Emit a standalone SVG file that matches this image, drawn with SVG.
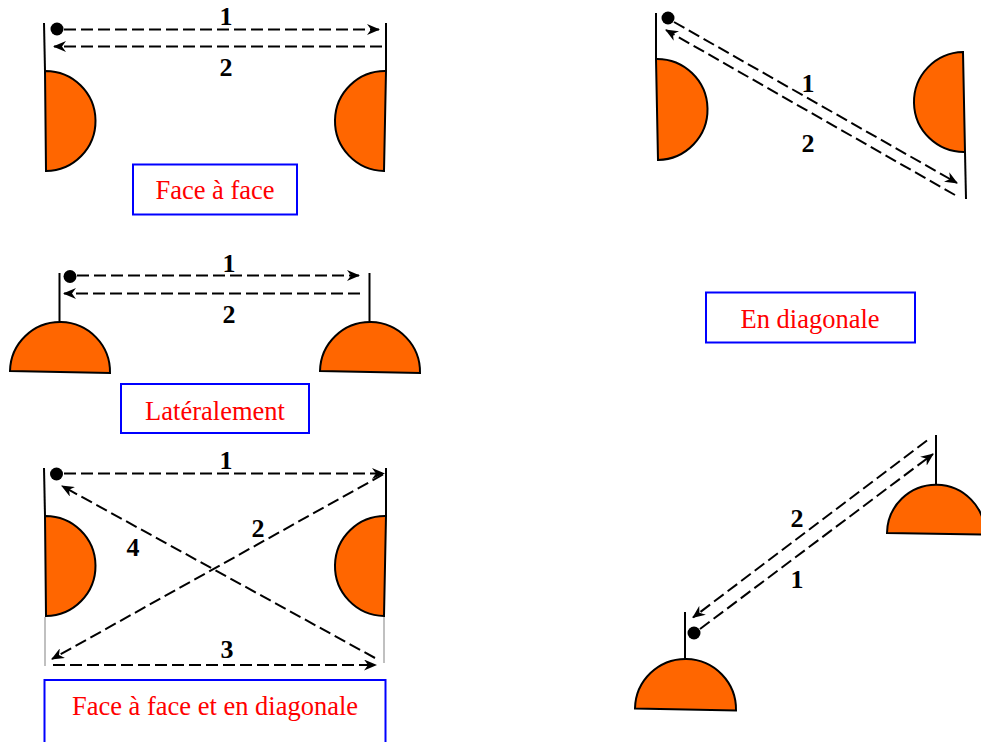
<svg xmlns="http://www.w3.org/2000/svg" width="981" height="742" viewBox="0 0 981 742">
<style>
.pole{stroke:#000;stroke-width:2;fill:none}
.gray{stroke:#c0c0c0;stroke-width:2;fill:none}
.disc{fill:#FF6600;stroke:#000;stroke-width:2}
.dot{fill:#000}
.dash{stroke:#000;stroke-width:2;fill:none;stroke-dasharray:12 5}
.num{font-family:"Liberation Serif","Times New Roman",serif;font-weight:bold;font-size:26px;fill:#000;text-anchor:middle}
.box{fill:#fff;stroke:#0000FF;stroke-width:2}
.lbl{font-family:"Liberation Serif","Times New Roman",serif;font-size:26.5px;fill:#FF0000;text-anchor:middle}
</style>
<defs>
<marker id="arr" viewBox="0 0 13 11" refX="12" refY="5.5" markerWidth="13" markerHeight="11" markerUnits="userSpaceOnUse" orient="auto">
<path d="M0,0 L13,5.5 L0,11 L4,5.5 Z" fill="#000"/>
</marker>
</defs>

<g id="faceAface">
<line class="pole" x1="44" y1="23" x2="45" y2="71"/>
<path class="disc" d="M45,71 A50,50 0 0 1 46,171 Z"/>
<line class="pole" x1="386" y1="23" x2="386" y2="71"/>
<path class="disc" d="M386,71 A50,50 0 0 0 384,171 Z"/>
<circle class="dot" cx="57" cy="29" r="6.5"/>
<rect class="box" x="133" y="164.5" width="164" height="50"/>
<text class="lbl" x="215" y="199">Face à face</text>
</g>

<g id="diagonale">
<line class="pole" x1="656" y1="13" x2="656" y2="59"/>
<path class="disc" d="M656,59 A50,50 0 0 1 658,160 Z"/>
<path class="disc" d="M963,52 A50,50 0 0 0 965,152 Z"/>
<line class="pole" x1="965" y1="152" x2="966" y2="199"/>
<circle class="dot" cx="668" cy="18" r="6.5"/>
<rect class="box" x="706" y="292.5" width="209" height="50"/>
<text class="lbl" x="810" y="328">En diagonale</text>
</g>

<g id="lateralement">
<line class="pole" x1="59.5" y1="273" x2="59.5" y2="321"/>
<path class="disc" d="M10,371 A50,50 0 0 1 110,373 Z"/>
<line class="pole" x1="369.5" y1="273" x2="369.5" y2="321"/>
<path class="disc" d="M320,371 A50,50 0 0 1 420,373 Z"/>
<circle class="dot" cx="70" cy="276.5" r="6.5"/>
<rect class="box" x="121" y="384" width="188" height="49"/>
<text class="lbl" x="215" y="420">Latéralement</text>
</g>

<g id="faceEtDiagonale">
<line class="pole" x1="44" y1="468" x2="45" y2="516"/>
<path class="disc" d="M45,516 A50,50 0 0 1 46,616 Z"/>
<line class="gray" x1="45" y1="617" x2="45" y2="666"/>
<line class="pole" x1="386" y1="468" x2="386" y2="516"/>
<path class="disc" d="M386,516 A50,50 0 0 0 384,616 Z"/>
<line class="gray" x1="384" y1="617" x2="384" y2="663"/>
<circle class="dot" cx="56.5" cy="474" r="6.5"/>
<rect class="box" x="44.5" y="680" width="341" height="70"/>
<text class="lbl" x="215" y="715">Face à face et en diagonale</text>
</g>

<g id="diagonaleLaterale">
<line class="pole" x1="936" y1="435" x2="936" y2="484"/>
<path class="disc" d="M887,533 A49,49 0 0 1 985,534.5 Z"/>
<line class="pole" x1="685" y1="612" x2="685" y2="659"/>
<path class="disc" d="M635,708.5 A50,50 0 0 1 736,710.5 Z"/>
<circle class="dot" cx="694" cy="633" r="6.5"/>
</g>

<g id="connectors">
<line class="dash" x1="64" y1="29.5" x2="379" y2="29.5" marker-end="url(#arr)"/>
<line class="dash" x1="382" y1="46.5" x2="54" y2="46.5" marker-end="url(#arr)"/>
<text class="num" x="226" y="25">1</text>
<text class="num" x="226" y="76">2</text>

<line class="dash" x1="674" y1="22" x2="957" y2="183" marker-end="url(#arr)"/>
<line class="dash" x1="955" y1="195" x2="666" y2="30" marker-end="url(#arr)"/>
<text class="num" x="808" y="92">1</text>
<text class="num" x="808" y="152">2</text>

<line class="dash" x1="77" y1="275.5" x2="359" y2="275.5" marker-end="url(#arr)"/>
<line class="dash" x1="360" y1="293.5" x2="64" y2="293.5" marker-end="url(#arr)"/>
<text class="num" x="229" y="272">1</text>
<text class="num" x="229" y="323">2</text>

<line class="dash" x1="64" y1="473.5" x2="384" y2="473.5" marker-end="url(#arr)"/>
<line class="dash" x1="383" y1="474.5" x2="52" y2="659" marker-end="url(#arr)"/>
<line class="dash" x1="53" y1="665" x2="376" y2="665" marker-end="url(#arr)"/>
<line class="dash" x1="375" y1="658" x2="62" y2="486" marker-end="url(#arr)"/>
<text class="num" x="226" y="469">1</text>
<text class="num" x="258" y="537">2</text>
<text class="num" x="227" y="658">3</text>
<text class="num" x="133" y="556">4</text>

<line class="dash" x1="700" y1="629" x2="933" y2="454" marker-end="url(#arr)"/>
<line class="dash" x1="927" y1="440.5" x2="693" y2="617.5" marker-end="url(#arr)"/>
<text class="num" x="797" y="527">2</text>
<text class="num" x="797" y="588">1</text>
</g>
</svg>
